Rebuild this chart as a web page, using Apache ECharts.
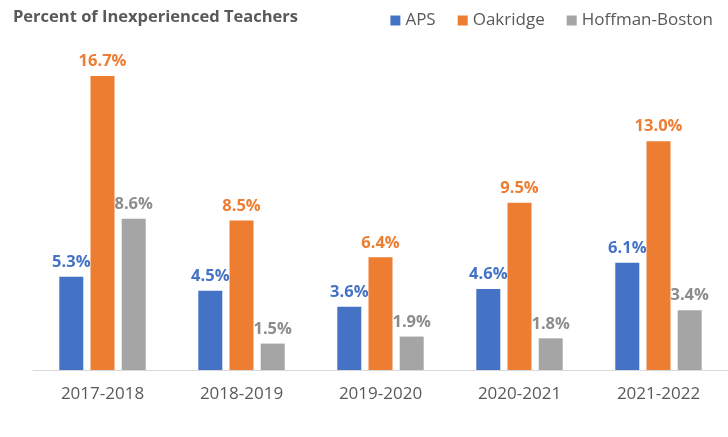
<!DOCTYPE html>
<html>
<head>
<meta charset="utf-8">
<script src="https://cdn.jsdelivr.net/npm/echarts@6/dist/echarts.min.js"></script>
<style>
  html, body { margin: 0; padding: 0; background: #fff; }
  #chart { width: 728px; height: 437px; }
</style>
</head>
<body>
<div id="chart"></div>
<script>
const years = ['2017-2018', '2018-2019', '2019-2020', '2020-2021', '2021-2022'];
const aps = [5.3, 4.5, 3.6, 4.6, 6.1];
const oakridge = [16.7, 8.5, 6.4, 9.5, 13.0];
const hoffmanBoston = [8.6, 1.5, 1.9, 1.8, 3.4];

const font = '"Open Sans", "Noto Sans", sans-serif';

function barSeries(name, data, color) {
    return {
        name: name,
        type: 'bar',
        data: data,
        barWidth: 24,
        barGap: '30%',
        itemStyle: { color: color },
        label: {
            show: true,
            position: 'top',
            distance: 6,
            color: color === '#a5a5a5' ? '#8c8c8c' : color,
            fontFamily: font,
            fontSize: 16.5,
            fontWeight: 'bold',
            formatter: p => p.value.toFixed(1) + '%'
        }
    };
}

const chart = echarts.init(document.getElementById('chart'));
chart.setOption({
    animation: false,
    title: {
        text: 'Percent of Inexperienced Teachers',
        left: 8,
        top: 4,
        textStyle: { fontFamily: font, fontSize: 16.5, fontWeight: 'bold', color: '#595959' }
    },
    legend: {
        right: 10,
        top: 7,
        itemWidth: 10,
        itemHeight: 10,
        itemGap: 22,
        icon: 'rect',
        textStyle: { fontFamily: font, fontSize: 17, color: '#595959' },
        data: ['APS', 'Oakridge', 'Hoffman-Boston']
    },
    grid: { left: 33, right: 0, top: 18, bottom: 67 },
    xAxis: {
        type: 'category',
        data: years,
        axisLine: { lineStyle: { color: '#d9d9d9', width: 1 } },
        axisTick: { show: false },
        axisLabel: { fontFamily: font, fontSize: 17, color: '#595959', margin: 16 }
    },
    yAxis: {
        type: 'value',
        min: 0,
        max: 20,
        show: false,
        splitLine: { show: false }
    },
    series: [
        barSeries('APS', aps, '#4472c4'),
        barSeries('Oakridge', oakridge, '#ed7d31'),
        barSeries('Hoffman-Boston', hoffmanBoston, '#a5a5a5')
    ]
});
</script>
</body>
</html>
